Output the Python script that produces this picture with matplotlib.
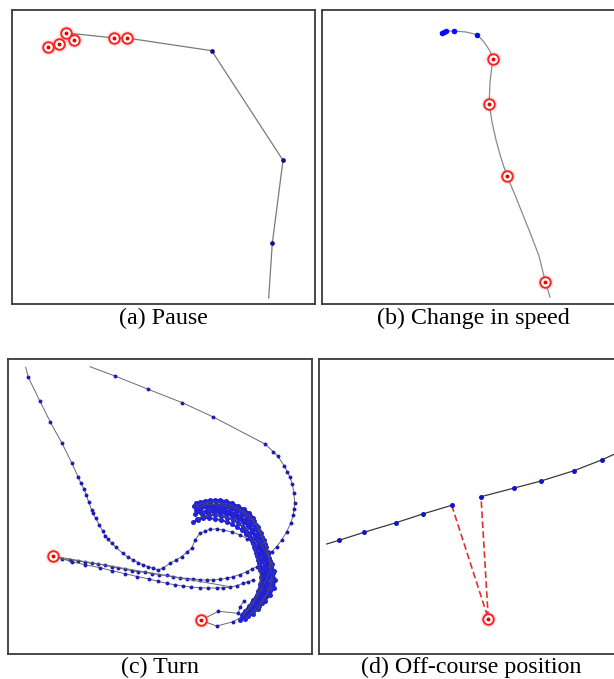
import matplotlib.pyplot as plt

# all coordinates below are read off the picture, in pixel units of each panel
# (x to the right, y downward)

# (a) Pause
a_path_x = [66.0, 76.7, 114.3, 126.7, 211.7, 283.0, 272.3, 268.7]
a_path_y = [33.3, 34.0, 38.0, 38.0, 50.7, 160.3, 243.3, 298.0]
a_move_x = [211.7, 283.0, 272.3]
a_move_y = [50.7, 160.3, 243.3]
a_stop_x = [48.3, 59.3, 66.0, 74.0, 114.3, 126.7]
a_stop_y = [46.7, 44.3, 33.3, 40.0, 38.0, 38.0]

# (b) Change in speed
b_path_x = [440.5, 446.0, 454.0, 466.0, 477.3, 484.0, 490.0, 492.7, 491.5, 490.0,
            489.5, 489.3, 492.0, 496.0, 501.0, 507.0, 515.0, 523.0, 531.0, 539.0,
            545.3, 550.0]
b_path_y = [32.5, 31.0, 31.0, 32.0, 34.7, 42.0, 51.0, 59.3, 70.0, 82.0,
            94.0, 104.0, 122.0, 140.0, 158.0, 176.0, 195.0, 215.0, 235.0, 256.0,
            281.7, 297.0]
b_move_x = [441.5, 443.5, 445.5, 454.0, 477.3]
b_move_y = [32.8, 32.0, 31.0, 31.0, 34.7]
b_stop_x = [492.7, 489.3, 507.0, 545.3]
b_stop_y = [59.3, 104.0, 176.0, 281.7]

# (c) Turn
c_left_x = [25.7, 28.3, 40.0, 50.3, 62.0, 71.7, 78.0, 80.7, 84.0, 86.3, 88.7, 91.7,
            92.7, 95.7, 99.3, 102.7, 105.0, 108.3, 111.7, 116.0, 122.7, 128.3, 133.3,
            138.3, 143.3, 148.3, 153.3, 158.3, 163.0, 170.0, 176.0, 181.7, 187.0,
            191.7, 195.0, 200.0, 205.0, 210.0, 217.0, 223.3, 232.0, 240.0, 247.0,
            253.3, 259.0, 263.3, 266.7]
c_left_y = [367.3, 377.3, 401.3, 422.0, 443.3, 462.7, 476.7, 482.7, 489.3, 494.7,
            502.3, 510.0, 513.3, 518.3, 525.0, 531.0, 535.7, 539.3, 543.3, 547.3,
            553.3, 557.3, 560.0, 562.7, 565.0, 566.7, 568.3, 570.0, 568.0, 563.3,
            560.0, 556.7, 552.0, 548.3, 540.0, 533.3, 531.0, 529.3, 529.0, 530.0,
            532.0, 535.0, 538.5, 543.3, 548.0, 553.3, 563.3]
c_right_x = [90.0, 115.0, 148.3, 182.3, 213.3, 265.0, 273.3, 277.7, 284.3, 287.3,
             290.0, 292.3, 294.0, 294.7, 294.0, 293.3, 290.7, 286.7, 281.7, 276.7,
             271.7, 266.7]
c_right_y = [366.7, 376.0, 389.3, 402.7, 417.0, 444.0, 451.7, 456.0, 466.0, 471.7,
             477.3, 484.0, 493.3, 503.3, 509.3, 515.0, 523.3, 531.7, 540.0, 546.7,
             551.7, 556.7]
c_upper_x = [52.7, 61.7, 70.0, 78.3, 85.0, 91.7, 98.3, 105.0, 111.7, 118.3, 125.0,
             131.7, 138.3, 145.0, 151.7, 159.0, 166.7, 173.0, 180.0, 187.0, 193.3,
             200.0, 206.7, 213.0, 220.0, 227.0, 233.3, 240.0, 246.7, 252.0, 256.7]
c_upper_y = [556.0, 559.0, 560.0, 560.7, 562.3, 563.3, 564.0, 565.3, 566.7, 568.0,
             569.3, 570.7, 571.7, 572.3, 573.5, 574.5, 575.3, 576.5, 577.7, 578.5,
             579.0, 579.7, 580.0, 580.0, 579.3, 578.2, 576.7, 574.5, 571.7, 569.0,
             566.7]
c_lower_x = [52.7, 71.7, 85.0, 100.0, 111.7, 125.0, 137.0, 149.3, 158.0, 166.7,
             175.0, 183.3, 191.0, 200.0, 208.0, 216.7, 223.0, 230.0, 237.0, 243.3,
             248.0, 253.3]
c_lower_y = [556.0, 561.7, 564.7, 567.7, 570.7, 573.7, 576.5, 579.0, 581.3, 583.3,
             584.8, 586.0, 587.0, 587.7, 588.0, 588.0, 587.8, 587.3, 585.5, 583.3,
             581.8, 580.0]
c_bare_x = [52.7, 230.0]
c_bare_y = [556.0, 586.7]
c_exit_top_x = [200.7, 218.3, 238.3, 240.0, 244.0]
c_exit_top_y = [620.3, 611.3, 613.3, 606.7, 601.0]
c_exit_bot_x = [200.7, 216.7, 233.3, 241.7, 246.0]
c_exit_bot_y = [620.3, 626.0, 621.7, 616.7, 611.0]
# the dense knot where the object turned back and forth
c_knot_x = [
    [194, 199, 204, 210, 216, 222, 228, 234, 240, 245, 250, 254, 258, 261, 264, 266,
     268, 270, 271, 272, 271, 269, 266, 262, 258, 253],
    [196, 201, 207, 213, 219, 225, 231, 237, 242, 247, 251, 255, 258, 261, 263, 265,
     267, 268, 268, 267, 265, 262, 258, 254, 249],
    [195, 200, 206, 212, 218, 224, 230, 236, 241, 245, 249, 252, 255, 258, 260, 262,
     264, 265, 265, 264, 262, 259, 255, 250, 245],
    [197, 203, 209, 215, 221, 227, 233, 238, 243, 247, 250, 253, 255, 257, 259, 260,
     261, 260, 258, 256, 252, 248, 243],
    [200, 205, 211, 217, 223, 229, 235, 240, 246, 250, 253, 256, 259, 262, 264, 266,
     267, 268, 267, 264, 261, 257, 252],
    [245, 249, 252, 254, 256, 258, 259, 262, 263, 262, 260, 257, 253, 249, 244, 240],
    [198, 204, 210, 216, 223, 230, 236, 242, 247, 252, 256, 259, 262, 265, 268, 270,
     269, 266, 262, 258, 254, 250, 246, 243],
    [193, 198, 203, 209, 215, 221, 227, 232, 237, 242, 246, 250, 253, 256, 258, 260,
     262, 263, 264, 264, 262, 259, 256, 252, 248],
    [196, 200, 205, 210, 215, 220, 226, 232, 238, 244, 249, 253],
    [258, 262, 266, 269, 272, 274, 273, 271, 268, 264, 260, 256, 252, 248, 245],
    [202, 208, 214, 220, 226, 232, 238, 243, 248, 252, 256, 259, 262, 264, 266, 267,
     266, 264, 261, 257, 253, 249, 245, 242],
    [262, 266, 270, 273, 275, 274, 270, 265, 259, 253, 247, 243],
]
c_knot_y = [
    [506, 504, 503, 502, 502, 503, 504, 506, 509, 512, 516, 521, 527, 533, 540, 547,
     554, 561, 568, 575, 582, 589, 596, 603, 609, 614],
    [510, 508, 507, 506, 506, 507, 509, 511, 514, 518, 523, 528, 534, 541, 548, 555,
     562, 569, 576, 583, 590, 597, 603, 609, 614],
    [514, 512, 511, 510, 510, 511, 513, 515, 518, 522, 527, 532, 538, 545, 552, 559,
     566, 573, 580, 587, 594, 600, 606, 611, 616],
    [519, 517, 515, 515, 516, 518, 520, 523, 527, 532, 537, 543, 549, 556, 563, 570,
     577, 584, 591, 597, 603, 609, 614],
    [505, 506, 508, 508, 509, 511, 513, 516, 520, 525, 530, 536, 543, 550, 557, 564,
     571, 578, 585, 592, 598, 605, 610],
    [530, 535, 541, 547, 553, 560, 567, 574, 581, 588, 595, 601, 607, 612, 617, 620],
    [508, 505, 504, 505, 505, 507, 509, 512, 516, 520, 525, 531, 537, 544, 552, 562,
     572, 580, 588, 595, 602, 608, 612, 617],
    [522, 520, 518, 518, 519, 520, 522, 524, 527, 530, 534, 538, 543, 549, 555, 562,
     569, 576, 583, 590, 596, 601, 606, 610, 614],
    [503, 502, 501, 500, 500, 500, 501, 503, 506, 509, 513, 518],
    [540, 546, 552, 558, 564, 571, 578, 585, 592, 598, 603, 608, 612, 616, 619],
    [514, 513, 512, 513, 514, 516, 519, 522, 526, 530, 535, 541, 547, 554, 561, 568,
     575, 582, 589, 595, 600, 606, 611, 615],
    [556, 560, 566, 573, 580, 588, 595, 601, 606, 610, 613, 616],
]
c_stop_x = [52.7, 200.7]
c_stop_y = [556.0, 620.3]

# (d) Off-course position
d_seg1_x = [326.7, 339.0, 364.0, 396.0, 422.7, 451.7]
d_seg1_y = [544.0, 540.3, 532.3, 522.7, 514.0, 505.3]
d_seg2_x = [481.0, 514.3, 541.0, 574.0, 602.3, 614.0, 625.0]
d_seg2_y = [496.7, 488.0, 481.0, 470.7, 459.7, 454.3, 448.0]
d_jump_x = [451.7, 488.3, 481.0]
d_jump_y = [505.3, 618.7, 496.7]
d_stop_x = [488.3]
d_stop_y = [618.7]

captions = ["(a) Pause", "(b) Change in speed", "(c) Turn", "(d) Off-course position"]

W, H = 614, 679
fig = plt.figure(figsize=(W / 100, H / 100), dpi=100)


def panel(l, t, r, b):
    ax = fig.add_axes([l / W, 1 - b / H, (r - l) / W, (b - t) / H])
    ax.set_xlim(l, r)
    ax.set_ylim(b, t)
    ax.set_xticks([])
    ax.set_yticks([])
    for s in ax.spines.values():
        s.set_color('#3a3a3a')
        s.set_linewidth(1.3)
    return ax


def stops(ax, x, y):
    # red "stop" marker: faint halo, ring, dot
    ax.plot(x, y, 'o', ms=11.5, color='#ff3030', mec='none', alpha=0.13, zorder=5)
    ax.plot(x, y, 'o', ms=7.6, mfc='white', mec='#ff2020', mew=1.4, zorder=6)
    ax.plot(x, y, 'o', ms=2.8, color='#e80000', mec='none', zorder=7)


# (a)
ax = panel(12, 10, 315, 304)
ax.plot(a_path_x, a_path_y, color='#7a7a7a', lw=0.9)
ax.plot(a_move_x, a_move_y, 'o', ms=3.4, color='#10108a', mec='none')
stops(ax, a_stop_x, a_stop_y)

# (b)
ax = panel(322, 10, 625, 304)
ax.plot(b_path_x, b_path_y, color='#8a8a8a', lw=0.9)
ax.plot(b_move_x, b_move_y, 'o', ms=4.0, color='#0a0aff', mec='none')
stops(ax, b_stop_x, b_stop_y)

# (c)
ax = panel(8, 359, 312, 654)
blue_c = '#2222d8'
for xs, ys in [(c_left_x, c_left_y), (c_right_x, c_right_y), (c_upper_x, c_upper_y),
               (c_lower_x, c_lower_y), (c_exit_top_x, c_exit_top_y),
               (c_exit_bot_x, c_exit_bot_y)]:
    ax.plot(xs, ys, color='#6a6a6a', lw=0.7)
    ax.plot(xs[1:], ys[1:], 'o', ms=2.8, color='#1c1cb8', mec='none')
ax.plot(c_bare_x, c_bare_y, color='#6a6a6a', lw=0.7)
for xs, ys in zip(c_knot_x, c_knot_y):
    ax.plot(xs, ys, color='#2020c0', lw=1.4)
    ax.plot(xs, ys, 'o', ms=3.6, color=blue_c, mec='none')
for xs, ys in zip(c_knot_x[::3], c_knot_y[::3]):
    ax.plot(xs, ys, color='#505050', lw=0.5, zorder=3)
stops(ax, c_stop_x, c_stop_y)

# (d)
ax = panel(319, 359, 623, 654)
ax.plot(d_jump_x, d_jump_y, color='#e03030', lw=1.2, ls=(0, (4, 2)))
ax.plot(d_seg1_x, d_seg1_y, color='#3a3a3a', lw=0.9)
ax.plot(d_seg2_x, d_seg2_y, color='#3a3a3a', lw=0.9)
ax.plot(d_seg1_x[1:], d_seg1_y[1:], 'o', ms=3.6, color='#1414c0', mec='none', zorder=4)
ax.plot(d_seg2_x[:-2], d_seg2_y[:-2], 'o', ms=3.6, color='#1414c0', mec='none', zorder=4)
stops(ax, d_stop_x, d_stop_y)

# captions under each panel
cap_pos = [(163.5, 318), (473, 318), (160, 667), (471, 667)]
for (cx, cy), txt in zip(cap_pos, captions):
    fig.text(cx / W, 1 - cy / H, txt, ha='center', va='center',
             family='Liberation Serif', fontsize=17.3)

plt.savefig('out.png', dpi=100)
